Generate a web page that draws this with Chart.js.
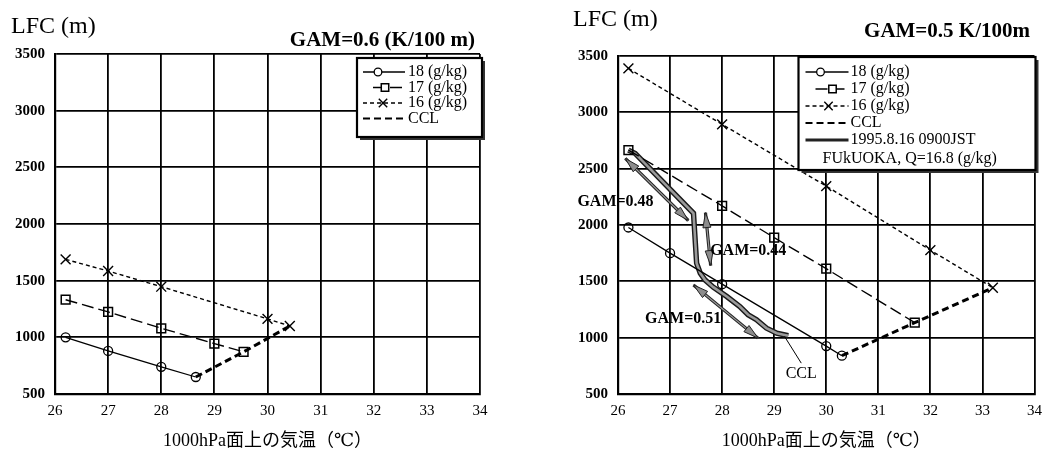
<!DOCTYPE html>
<html lang="ja">
<head>
<meta charset="utf-8">
<title>LFC と 1000hPa 面上の気温</title>
<script src="https://cdn.jsdelivr.net/npm/chart.js@4.4.1/dist/chart.umd.min.js"></script>
<style>
  html, body { margin: 0; padding: 0; background: #fff; }
  #wrap { position: relative; width: 1050px; height: 450px; overflow: hidden; }
  .panel { position: absolute; top: 0; width: 525px; height: 450px; }
  #p1 { left: 0; }
  #p2 { left: 525px; }
</style>
</head>
<body>
<div id="wrap">
  <div class="panel" id="p1"><canvas id="c1" width="525" height="450"></canvas></div>
  <div class="panel" id="p2"><canvas id="c2" width="525" height="450"></canvas></div>
</div>
<script>
// ============= data =============
// axes: temperature on 1000hPa (degC) / LFC (m)
const tempTicks = [26, 27, 28, 29, 30, 31, 32, 33, 34];
const lfcTicks = [500, 1000, 1500, 2000, 2500, 3000, 3500];

// left panel, GAM = 0.6 K/100m   [temperature, LFC]
const left18 = [[26.2, 1000], [27, 880], [28, 740], [28.65, 650]];
const left17 = [[26.2, 1332], [27, 1224], [28, 1080], [29, 945], [29.55, 872]];
const left16 = [[26.2, 1688], [27, 1585], [28, 1447], [30, 1163], [30.42, 1100]];
const leftCCL = [[28.65, 650], [29.55, 872], [30.42, 1100]];

// right panel, GAM = 0.5 K/100m
const right18 = [[26.2, 1978], [27, 1750], [28, 1475], [30, 925], [30.3, 840]];
const right17 = [[26.2, 2665], [28, 2170], [29, 1888], [30, 1612], [31.7, 1133]];
const right16 = [[26.2, 3390], [28, 2893], [30, 2345], [32, 1777], [33.2, 1443]];
const rightCCL = [[30.3, 840], [31.7, 1133], [33.2, 1443]];

// observed: 1995.8.16 0900JST FUKUOKA, Q=16.8 g/kg
const obsTemp = [26.2, 26.33, 27.45, 27.51, 27.58, 27.67, 27.83, 28.09, 28.34, 28.5, 28.66, 28.85, 29.05, 29.27];
const obsLfc = [2665, 2635, 2104, 1661, 1572, 1513, 1448, 1365, 1276, 1203, 1159, 1085, 1040, 1017];

// double arrows (GAM of the observed segments)
const arrowFrom = [[26.14, 2591], [27.68, 2110], [27.45, 1468]];
const arrowTo = [[27.35, 2040], [27.78, 1640], [28.69, 996]];
const gamLabels = ['GAM=0.48', 'GAM=0.44', 'GAM=0.51'];
const gamLabelAt = [[25.22, 2204], [27.77, 1772], [26.52, 1167]];
const cclLeader = [[29.2, 1010], [29.52, 774]];
const cclLabelAt = [29.52, 680];

const SERIF = "'Liberation Serif', 'DejaVu Serif', 'Noto Sans CJK JP', serif";
const toXY = pairs => pairs.map(([x, y]) => ({ x, y }));

// ============= plugins =============
// free texts at canvas positions (titles)
const panelText = {
  id: 'panelText',
  afterDraw(chart, args, opts) {
    const ctx = chart.ctx;
    ctx.save();
    ctx.fillStyle = '#000';
    ctx.textBaseline = 'middle';
    (opts.items || []).forEach(t => {
      ctx.font = t.font;
      ctx.textAlign = t.align || 'left';
      ctx.fillText(t.text, t.x, t.y);
    });
    ctx.restore();
  }
};

// boxed legend in the upper right corner of the plot
const boxLegend = {
  id: 'boxLegend',
  afterDatasetsDraw(chart, args, opts) {
    if (!opts.rows) return;
    const { ctx, chartArea } = chart;
    const x = chartArea.right + opts.overhang - opts.width;
    const y = chartArea.top + opts.offsetTop;
    ctx.save();
    ctx.fillStyle = '#333';
    ctx.fillRect(x + 3, y + 3, opts.width, opts.height);
    ctx.fillStyle = '#fff';
    ctx.fillRect(x, y, opts.width, opts.height);
    ctx.strokeStyle = '#000';
    ctx.lineWidth = 2.2;
    ctx.strokeRect(x, y, opts.width, opts.height);

    ctx.font = opts.font;
    ctx.textBaseline = 'middle';
    ctx.textAlign = 'left';
    let rowY = y + opts.firstRow;
    opts.rows.forEach(r => {
      const ds = chart.data.datasets[r.dataset];
      ctx.strokeStyle = r.color || '#000';
      ctx.lineWidth = r.width || ds.borderWidth;
      ctx.setLineDash(ds.borderDash || []);
      ctx.beginPath();
      ctx.moveTo(x + r.from, rowY);
      ctx.lineTo(x + opts.sampleTo, rowY);
      ctx.stroke();
      ctx.setLineDash([]);
      if (ds.pointRadius) {
        ctx.fillStyle = '#fff';
        ctx.lineWidth = ds.pointBorderWidth;
        Chart.helpers.drawPoint(ctx, {
          pointStyle: ds.pointStyle, radius: ds.pointRadius * 0.85,
          borderWidth: ds.pointBorderWidth, rotation: 0
        }, x + r.marker, rowY);
      }
      ctx.fillStyle = '#000';
      const lines = Array.isArray(ds.label) ? ds.label : [ds.label];
      lines.forEach((txt, i) => {
        ctx.fillText(txt, x + (i === 0 ? opts.textX : opts.textX2), rowY + i * opts.rowH * 1.1);
      });
      rowY += opts.rowH * lines.length;
    });
    ctx.restore();
  }
};

// arrows, GAM labels and the CCL leader (right panel)
function arrowHead(ctx, tipX, tipY, ang) {
  const len = 15, half = 4;
  const bx = tipX - Math.cos(ang) * len, by = tipY - Math.sin(ang) * len;
  ctx.beginPath();
  ctx.moveTo(tipX, tipY);
  ctx.lineTo(bx - Math.sin(ang) * half, by + Math.cos(ang) * half);
  ctx.lineTo(bx + Math.sin(ang) * half, by - Math.cos(ang) * half);
  ctx.closePath();
  ctx.fillStyle = '#8c8c8c';
  ctx.fill();
  ctx.strokeStyle = '#222';
  ctx.lineWidth = 1;
  ctx.stroke();
}

const gamNotes = {
  id: 'gamNotes',
  afterDatasetsDraw(chart, args, opts) {
    if (!opts.show) return;
    const { ctx, scales: { x, y } } = chart;
    const px = p => [x.getPixelForValue(p[0]), y.getPixelForValue(p[1])];
    ctx.save();
    arrowFrom.forEach((from, i) => {
      const [x1, y1] = px(from);
      const [x2, y2] = px(arrowTo[i]);
      const ang = Math.atan2(y2 - y1, x2 - x1);
      ctx.strokeStyle = '#222';
      ctx.lineWidth = 3.2;
      ctx.beginPath(); ctx.moveTo(x1, y1); ctx.lineTo(x2, y2); ctx.stroke();
      ctx.strokeStyle = '#9a9a9a';
      ctx.lineWidth = 1.2;
      ctx.beginPath(); ctx.moveTo(x1, y1); ctx.lineTo(x2, y2); ctx.stroke();
      arrowHead(ctx, x2, y2, ang);
      arrowHead(ctx, x1, y1, ang + Math.PI);
    });
    ctx.fillStyle = '#000';
    ctx.textBaseline = 'middle';
    ctx.textAlign = 'left';
    ctx.font = 'bold 16px ' + SERIF;
    gamLabels.forEach((t, i) => {
      const [lx, ly] = px(gamLabelAt[i]);
      ctx.fillText(t, lx, ly);
    });
    const [a1, b1] = px(cclLeader[0]);
    const [a2, b2] = px(cclLeader[1]);
    ctx.strokeStyle = '#000';
    ctx.lineWidth = 1;
    ctx.beginPath(); ctx.moveTo(a1, b1); ctx.lineTo(a2, b2); ctx.stroke();
    const [cx, cy] = px(cclLabelAt);
    ctx.textAlign = 'center';
    ctx.font = '16px ' + SERIF;
    ctx.fillText('CCL', cx, cy);
    ctx.restore();
  }
};

// ============= chart builder =============
function lfcDatasets(q18, q17, q16, ccl) {
  return [
    { label: '18 (g/kg)', data: toXY(q18), borderColor: '#000', borderWidth: 1.3,
      pointStyle: 'circle', pointRadius: 4.5, pointBorderWidth: 1.3,
      pointBorderColor: '#000', pointBackgroundColor: 'rgba(0,0,0,0)' },
    { label: '17 (g/kg)', data: toXY(q17), borderColor: '#000', borderWidth: 1.4, borderDash: [12, 5],
      pointStyle: 'rect', pointRadius: 6.2, pointBorderWidth: 1.5,
      pointBorderColor: '#000', pointBackgroundColor: 'rgba(0,0,0,0)' },
    { label: '16 (g/kg)', data: toXY(q16), borderColor: '#000', borderWidth: 1.4, borderDash: [4, 3],
      pointStyle: 'crossRot', pointRadius: 7, pointBorderWidth: 1.4,
      pointBorderColor: '#000', pointBackgroundColor: 'rgba(0,0,0,0)' },
    { label: 'CCL', data: toXY(ccl), borderColor: '#000', borderWidth: 3, borderDash: [7, 4],
      pointRadius: 0 }
  ];
}

function makeChart(canvasId, datasets, o) {
  return new Chart(document.getElementById(canvasId), {
    type: 'line',
    data: { datasets },
    plugins: [panelText, gamNotes, boxLegend],
    options: {
      responsive: false,
      animation: false,
      layout: { padding: o.padding },
      scales: {
        x: {
          type: 'linear',
          min: tempTicks[0], max: tempTicks[tempTicks.length - 1],
          afterBuildTicks: s => { s.ticks = tempTicks.map(v => ({ value: v })); },
          afterFit: s => { s.height = o.xAxisH; },
          grid: { color: '#000', lineWidth: 1.8, drawTicks: false },
          border: { color: '#000', width: 2.2 },
          ticks: { color: '#000', padding: 8, font: { family: SERIF, size: 15 } },
          title: {
            display: true, text: '1000hPa面上の気温（℃）', color: '#000',
            font: { family: SERIF, size: 18, lineHeight: 1.0 }, padding: { top: 0, bottom: 0 }
          }
        },
        y: {
          type: 'linear',
          min: lfcTicks[0], max: lfcTicks[lfcTicks.length - 1],
          afterBuildTicks: s => { s.ticks = lfcTicks.map(v => ({ value: v })); },
          afterFit: s => { s.width = o.yAxisW; },
          grid: { color: '#000', lineWidth: 1.8, drawTicks: false },
          border: { color: '#000', width: 2.2 },
          ticks: { color: '#000', padding: 10, font: { family: SERIF, size: 15, weight: 'bold' },
                   callback: v => String(v) }
        }
      },
      plugins: {
        legend: { display: false },
        tooltip: { enabled: false },
        panelText: { items: o.texts },
        boxLegend: o.legend,
        gamNotes: { show: !!o.notes }
      }
    }
  });
}

// ============= left: GAM=0.6 =============
makeChart('c1', lfcDatasets(left18, left17, left16, leftCCL), {
  padding: { left: 0, top: 54, right: 45, bottom: 0 },
  xAxisH: 56, yAxisW: 55,
  texts: [
    { text: 'LFC (m)', x: 11, y: 27, font: '24px ' + SERIF },
    { text: 'GAM=0.6 (K/100 m)', x: 475, y: 41, font: 'bold 21px ' + SERIF, align: 'right' }
  ],
  legend: {
    width: 125, height: 79, overhang: 2, offsetTop: 4, firstRow: 14, rowH: 15.5,
    sampleTo: 48, textX: 51, textX2: 51, font: '16px ' + SERIF,
    rows: [
      { dataset: 0, from: 6, marker: 21 },
      { dataset: 1, from: 16, marker: 28 },
      { dataset: 2, from: 6, marker: 26 },
      { dataset: 3, from: 6, width: 2 }
    ]
  }
});

// ============= right: GAM=0.5 with observation =============
const rightSets = lfcDatasets(right18, right17, right16, rightCCL);
const obsXY = obsTemp.map((t, i) => ({ x: t, y: obsLfc[i] }));
rightSets.push(
  { label: ['1995.8.16 0900JST', 'FUkUOKA, Q=16.8 (g/kg)'], data: obsXY,
    borderColor: '#9a9a9a', borderWidth: 2.6, pointRadius: 0, tension: 0 },
  { label: '', data: obsXY, borderColor: '#1a1a1a', borderWidth: 5.4, pointRadius: 0, tension: 0 }
);
makeChart('c2', rightSets, {
  padding: { left: 0, top: 56, right: 15, bottom: 0 },
  xAxisH: 56, yAxisW: 93,
  notes: true,
  texts: [
    { text: 'LFC (m)', x: 48, y: 20, font: '24px ' + SERIF },
    { text: 'GAM=0.5 K/100m', x: 505, y: 32, font: 'bold 21px ' + SERIF, align: 'right' }
  ],
  legend: {
    width: 237, height: 113, overhang: 1, offsetTop: 1, firstRow: 15, rowH: 17,
    sampleTo: 50, textX: 52, textX2: 24, font: '16px ' + SERIF,
    rows: [
      { dataset: 0, from: 7, marker: 22 },
      { dataset: 1, from: 17, marker: 34 },
      { dataset: 2, from: 7, marker: 30 },
      { dataset: 3, from: 7, width: 2 },
      { dataset: 4, from: 7, width: 3, color: '#222' }
    ]
  }
});
</script>
</body>
</html>
